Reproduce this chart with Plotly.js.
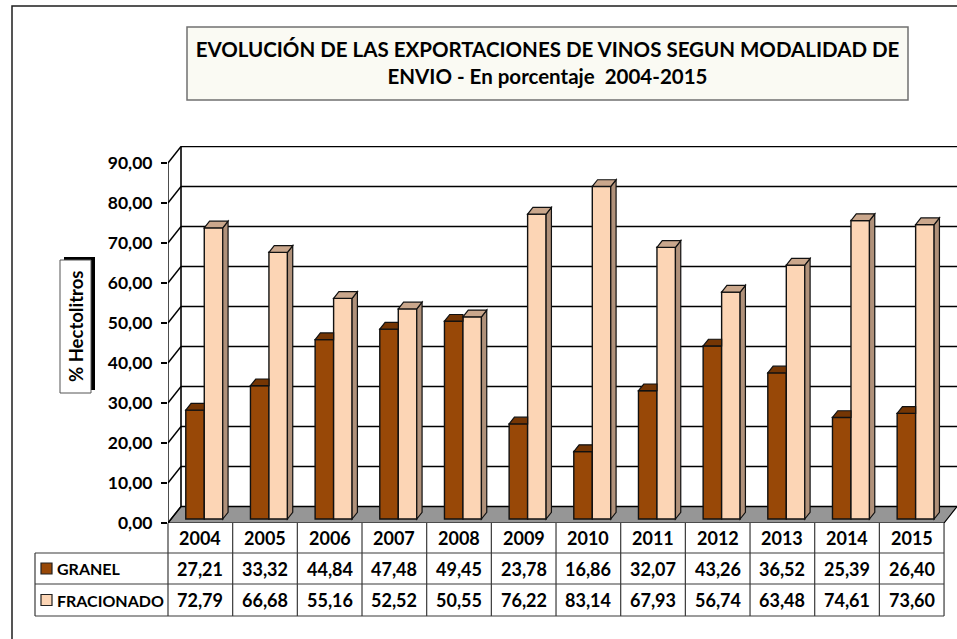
<!DOCTYPE html>
<html>
<head>
<meta charset="utf-8">
<script src="https://cdn.plot.ly/plotly-3.0.1.min.js"></script>
<style>html,body{margin:0;padding:0;background:#fff;}#chart{width:957px;height:639px;}</style>
</head>
<body>
<div id="chart"></div>
<script>
// ---- data ----
const years = ['2004','2005','2006','2007','2008','2009','2010','2011','2012','2013','2014','2015'];
const granel = [27.21, 33.32, 44.84, 47.48, 49.45, 23.78, 16.86, 32.07, 43.26, 36.52, 25.39, 26.40];
const fracionado = [72.79, 66.68, 55.16, 52.52, 50.55, 76.22, 83.14, 67.93, 56.74, 63.48, 74.61, 73.60];
const seriesNames = ['GRANEL', 'FRACIONADO'];
const yTicks = [0, 10, 20, 30, 40, 50, 60, 70, 80, 90];
const titleText = 'EVOLUCIÓN DE LAS EXPORTACIONES DE VINOS SEGUN MODALIDAD DE<br>ENVIO - En porcentaje  2004-2015';
const yTitle = '% Hectolitros';

// ---- geometry / style ----
const W = 957, H = 639;
const PL = 168, PR = 957, PT = 146, PB = 523;
const colW = 64.67, col0 = 200.33;          // pixel centre of first column, column width
const pxPerUnit = 4.0;
const xRange = [(PL - col0) / colW, (PR - col0) / colW];
const yRange = [0, (PB - PT) / pxPerUnit];
const depthX = 13 / colW, depthY = 16.5 / pxPerUnit;    // wall depth in axis units
const barBase = 1.0, barW = 0.286;
const offG = -0.225, offF = 0.061;
const bdx = 5.3 / colW, bdy = 6.7 / pxPerUnit;          // bar depth
const colG = '#984807', colGtop = '#753604';
const colF = '#fcd5b5', colFside = '#b0917a', colFtop = '#caa78c';
const FONT = 'Lato, "Open Sans", sans-serif';

const px = v => (v - PL) / (PR - PL);
const py = v => (PB - v) / (PB - PT);

const shapes = [];
// outer frame
shapes.push({type:'rect', xref:'paper', yref:'paper', x0:px(12), x1:px(975), y0:py(6), y1:py(660),
  line:{color:'#1e1e1e', width:1.5}, layer:'below'});
// title box
shapes.push({type:'rect', xref:'paper', yref:'paper', x0:px(187), x1:px(908), y0:py(27), y1:py(100),
  line:{color:'#707070', width:1.5}, fillcolor:'#fafaf3', layer:'below'});
// y title box with shadow
shapes.push({type:'rect', xref:'paper', yref:'paper', x0:px(64), x1:px(95), y0:py(257), y1:py(390),
  line:{width:0}, fillcolor:'#000', layer:'below'});
shapes.push({type:'rect', xref:'paper', yref:'paper', x0:px(60), x1:px(91), y0:py(260), y1:py(393),
  line:{color:'#555', width:1}, fillcolor:'#fff', layer:'below'});

// floor
const fx0 = xRange[0], fx1 = years.length - 0.5;
shapes.push({type:'path', xref:'x', yref:'y', layer:'below',
  path:`M${fx0},0 L${fx0+depthX},${depthY} L${fx1+depthX},${depthY} L${fx1},0 Z`,
  fillcolor:'#969696', line:{color:'#000', width:1.2}});
// back wall gridlines + left wall diagonals
yTicks.forEach(v => {
  shapes.push({type:'line', xref:'x', yref:'y', layer:'below',
    x0:fx0+depthX, x1:xRange[1], y0:v+depthY, y1:v+depthY, line:{color:'#000', width:1.6}});
  shapes.push({type:'line', xref:'x', yref:'y', layer:'below',
    x0:fx0, x1:fx0+depthX, y0:v, y1:v+depthY, line:{color:'#000', width:1.4}});
});
// back-left vertical and front axis line
shapes.push({type:'line', xref:'x', yref:'y', layer:'below',
  x0:fx0+depthX, x1:fx0+depthX, y0:depthY, y1:yTicks[yTicks.length-1]+depthY, line:{color:'#000', width:1.6}});
shapes.push({type:'line', xref:'x', yref:'y', layer:'above',
  x0:fx0, x1:fx0, y0:0, y1:yTicks[yTicks.length-1], line:{color:'#000', width:1.4}});

// 3D faces of bars (derived from the data)
years.forEach((yr, i) => {
  // GRANEL top (right part hidden by the FRACIONADO bar)
  let xl = i + offG, xr = xl + barW, t = barBase + granel[i];
  shapes.push({type:'path', xref:'x', yref:'y', layer:'above',
    path:`M${xl},${t} L${xl+bdx},${t+bdy} L${xr},${t+bdy} L${xr},${t} Z`,
    fillcolor:colGtop, line:{color:'#111', width:1.2}});
  // FRACIONADO side + top
  xl = i + offF; xr = xl + barW; t = barBase + fracionado[i];
  shapes.push({type:'path', xref:'x', yref:'y', layer:'above',
    path:`M${xr},${barBase} L${xr+bdx},${barBase+bdy} L${xr+bdx},${t+bdy} L${xr},${t} Z`,
    fillcolor:colFside, line:{color:'#111', width:1.2}});
  shapes.push({type:'path', xref:'x', yref:'y', layer:'above',
    path:`M${xl},${t} L${xl+bdx},${t+bdy} L${xr+bdx},${t+bdy} L${xr},${t} Z`,
    fillcolor:colFtop, line:{color:'#111', width:1.2}});
});

// ---- data table ----
const tblLeft = 35, rowY = [523, 553, 584, 616];
const colEdge = k => PL + colW * k;
const tblLine = '#3a3a3a';
[1, 2, 3].forEach(r => shapes.push({type:'line', xref:'paper', yref:'paper',
  x0:px(tblLeft), x1:px(colEdge(years.length)), y0:py(rowY[r]), y1:py(rowY[r]), line:{color:tblLine, width:1.2}}));
shapes.push({type:'line', xref:'paper', yref:'paper', x0:px(tblLeft), x1:px(tblLeft),
  y0:py(rowY[1]), y1:py(rowY[3]), line:{color:tblLine, width:1.2}});
for (let k = 0; k <= years.length; k++) {
  shapes.push({type:'line', xref:'paper', yref:'paper', x0:px(colEdge(k)), x1:px(colEdge(k)),
    y0:py(rowY[0]), y1:py(rowY[3]), line:{color:tblLine, width:1.2}});
}
// legend swatches
const swCols = [colG, colF];
[0, 1].forEach(r => {
  const yc = (rowY[r+1] + rowY[r+2]) / 2;
  shapes.push({type:'rect', xref:'paper', yref:'paper', x0:px(41), x1:px(52), y0:py(yc-5.5), y1:py(yc+5.5),
    fillcolor:swCols[r], line:{color:'#222', width:1.2}});
});

const annotations = [];
const fmt = v => v.toFixed(2).replace('.', ',');
const tFont = {family:FONT, size:18, color:'#000', weight:'bold'};
years.forEach((yr, i) => {
  const xc = px(colEdge(i) + colW / 2);
  annotations.push({xref:'paper', yref:'paper', x:xc, y:py((rowY[0]+rowY[1])/2), text:yr,
    showarrow:false, xanchor:'center', yanchor:'middle', font:tFont});
  annotations.push({xref:'paper', yref:'paper', x:xc, y:py((rowY[1]+rowY[2])/2), text:fmt(granel[i]),
    showarrow:false, xanchor:'center', yanchor:'middle', font:tFont});
  annotations.push({xref:'paper', yref:'paper', x:xc, y:py((rowY[2]+rowY[3])/2), text:fmt(fracionado[i]),
    showarrow:false, xanchor:'center', yanchor:'middle', font:tFont});
});
seriesNames.forEach((nm, r) => {
  annotations.push({xref:'paper', yref:'paper', x:px(55), y:py((rowY[r+1]+rowY[r+2])/2), text:nm,
    showarrow:false, xanchor:'left', yanchor:'middle', font:{family:FONT, size:16, color:'#000', weight:'bold'}});
});
// y axis title
annotations.push({xref:'paper', yref:'paper', x:px(75.5), y:py(326.5), text:yTitle, textangle:-90,
  showarrow:false, xanchor:'center', yanchor:'middle', font:{family:FONT, size:18.5, color:'#000', weight:'bold'}});

const idx = years.map((_, i) => i);
const traces = [
  {type:'bar', name:seriesNames[0], x:idx, y:granel, base:barBase, width:barW, offset:offG,
   marker:{color:colG, line:{color:'#111', width:1.4}}, hoverinfo:'skip'},
  {type:'bar', name:seriesNames[1], x:idx, y:fracionado, base:barBase, width:barW, offset:offF,
   marker:{color:colF, line:{color:'#111', width:1.4}}, hoverinfo:'skip'}
];

const layout = {
  width:W, height:H, paper_bgcolor:'#fff', plot_bgcolor:'rgba(0,0,0,0)',
  margin:{l:PL, r:W-PR, t:PT, b:H-PB, pad:0},
  barmode:'overlay', showlegend:false, separators:',.',
  title:{text:titleText, x:547.5/W, xanchor:'center', y:1-57/H, yanchor:'middle',
    font:{family:FONT, size:20.5, color:'#000', weight:'bold'}},
  xaxis:{range:xRange, showgrid:false, zeroline:false, showline:false, showticklabels:false, ticks:'', fixedrange:true},
  yaxis:{range:yRange, tickvals:yTicks, tickformat:'.2f', ticks:'outside', ticklen:6, tickwidth:1.4, tickcolor:'#000',
    ticklabelstandoff:5,
    showgrid:false, zeroline:false, showline:false, tickfont:{family:FONT, size:17.5, color:'#000', weight:'bold'}},
  shapes:shapes, annotations:annotations
};
Plotly.newPlot('chart', traces, layout, {displayModeBar:false, staticPlot:true});
</script>
</body>
</html>
